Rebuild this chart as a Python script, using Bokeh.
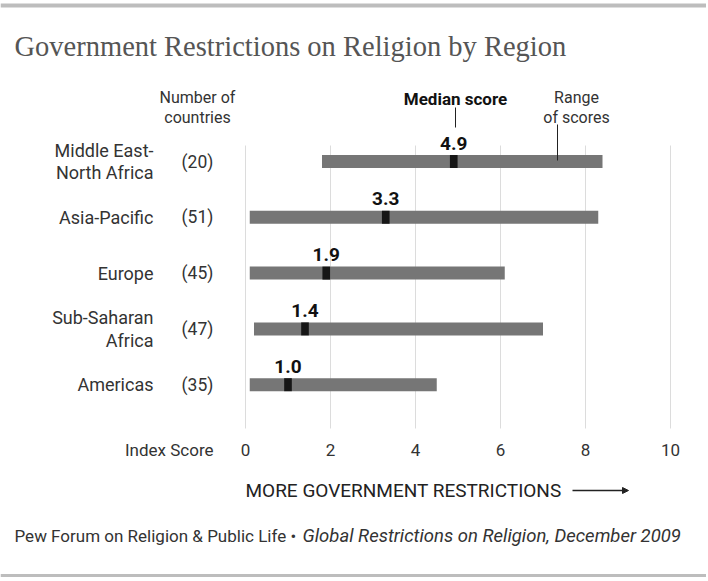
from bokeh.plotting import figure
from bokeh.models import Range1d, ColumnDataSource, Arrow, NormalHead
from bokeh.core.properties import value
from bokeh.embed import file_html
from bokeh.resources import INLINE

# ---- data ----
regions = ["Middle East-\nNorth Africa", "Asia-Pacific", "Europe", "Sub-Saharan\nAfrica", "Americas"]
counts = ["(20)", "(51)", "(45)", "(47)", "(35)"]
low = [1.8, 0.1, 0.1, 0.2, 0.1]
high = [8.4, 8.3, 6.1, 7.0, 4.5]
median = [4.9, 3.3, 1.9, 1.4, 1.0]
ticks = [0, 2, 4, 6, 8, 10]

# ---- layout helpers (reference-pixel based) ----
PX0, PPU = 245.0, 42.5          # pixel of score 0, pixels per score unit
W, H = 706, 579
def sx(px):
    return (px - PX0) / PPU

row_y = [161 + 55.8 * i for i in range(len(regions))]
half = 6.5

SANS = value("Roboto")

p = figure(width=W, height=H, output_backend="svg", toolbar_location=None,
           x_range=Range1d(sx(0), sx(W)), y_range=Range1d(H, 0),
           min_border=0, outline_line_color=None)
p.axis.visible = False
p.grid.visible = False
p.background_fill_color = "white"

# rules
p.segment(x0=[sx(0)], x1=[sx(W)], y0=[5], y1=[5], line_color="#bdbdbd", line_width=4)
p.segment(x0=[sx(0)], x1=[sx(W)], y0=[575], y1=[575], line_color="#bdbdbd", line_width=3)

# title
p.text(x=[sx(14)], y=[46], text=["Government Restrictions on Religion by Region"],
       text_font=value("Liberation Serif"), text_font_size="28.5px", text_color="#555555",
       text_baseline="middle", text_align="left")

# gridlines
p.segment(x0=ticks, x1=ticks, y0=[145] * len(ticks), y1=[428] * len(ticks),
          line_color="#dcdcdc", line_width=1)
# tick labels
p.text(x=ticks, y=[449] * len(ticks), text=[str(t) for t in ticks], text_font=SANS,
       text_font_size="17px", text_color="#333333", text_align="center", text_baseline="middle")
p.text(x=[sx(213)], y=[449], text=["Index Score"], text_font=SANS, text_font_size="17px",
       text_color="#333333", text_align="right", text_baseline="middle")

src = ColumnDataSource(dict(region=regions, count=counts, low=low, high=high, med=median,
                            y=row_y, top=[y - half for y in row_y], bottom=[y + half for y in row_y],
                            mlo=[m - 0.09 for m in median], mhi=[m + 0.09 for m in median],
                            lab=[f"{m:.1f}" for m in median], laby=[y - 18.5 for y in row_y]))

# range bars
p.quad(left="low", right="high", top="top", bottom="bottom", source=src,
       fill_color="#767676", line_color=None)
# median markers
p.quad(left="mlo", right="mhi", top="top", bottom="bottom", source=src,
       fill_color="#161616", line_color=None)
# median labels
p.text(x="med", y="laby", text="lab", source=src, text_font=SANS, text_font_style="bold",
       text_font_size="19px", text_color="#111111", text_align="center", text_baseline="middle")

# region labels and counts
p.text(x=value(sx(153)), y="y", text="region", source=src, text_font=SANS,
       text_font_size="18px", text_color="#333333", text_align="right", text_baseline="middle",
       text_line_height=1.08)
p.text(x=value(sx(197)), y="y", text="count", source=src, text_font=SANS,
       text_font_size="17.5px", text_color="#333333", text_align="center", text_baseline="middle")

# headers
p.text(x=[sx(197)], y=[107], text=["Number of\ncountries"], text_font=SANS, text_font_size="16px",
       text_color="#333333", text_align="center", text_baseline="middle", text_line_height=1.1)
p.text(x=[sx(455)], y=[98], text=["Median score"], text_font=SANS, text_font_style="bold",
       text_font_size="17px", text_color="#111111", text_align="center", text_baseline="middle")
p.text(x=[sx(576)], y=[107], text=["Range\nof scores"], text_font=SANS, text_font_size="16px",
       text_color="#333333", text_align="center", text_baseline="middle", text_line_height=1.1)
p.segment(x0=[sx(455), sx(557)], x1=[sx(455), sx(557)], y0=[107, 124], y1=[127, 160],
          line_color="#222222", line_width=1)

# direction label
p.text(x=[0], y=[490], text=["MORE GOVERNMENT RESTRICTIONS"], text_font=SANS, text_font_size="19px",
       text_color="#222222", text_align="left", text_baseline="middle")
p.add_layout(Arrow(end=NormalHead(size=6, fill_color="#222222", line_color="#222222"),
                   x_start=sx(572), y_start=490, x_end=sx(628), y_end=490,
                   line_color="#222222", line_width=1.5))

# footer
p.text(x=[sx(14)], y=[535], text=["Pew Forum on Religion & Public Life \u2022"], text_font=SANS,
       text_font_size="17px", text_color="#333333", text_align="left", text_baseline="middle")
p.text(x=[sx(302)], y=[535], text=["Global Restrictions on Religion, December 2009"], text_font=SANS,
       text_font_style="italic", text_font_size="18.5px", text_color="#333333",
       text_align="left", text_baseline="middle")

open("out.html", "w").write(file_html(p, INLINE))
